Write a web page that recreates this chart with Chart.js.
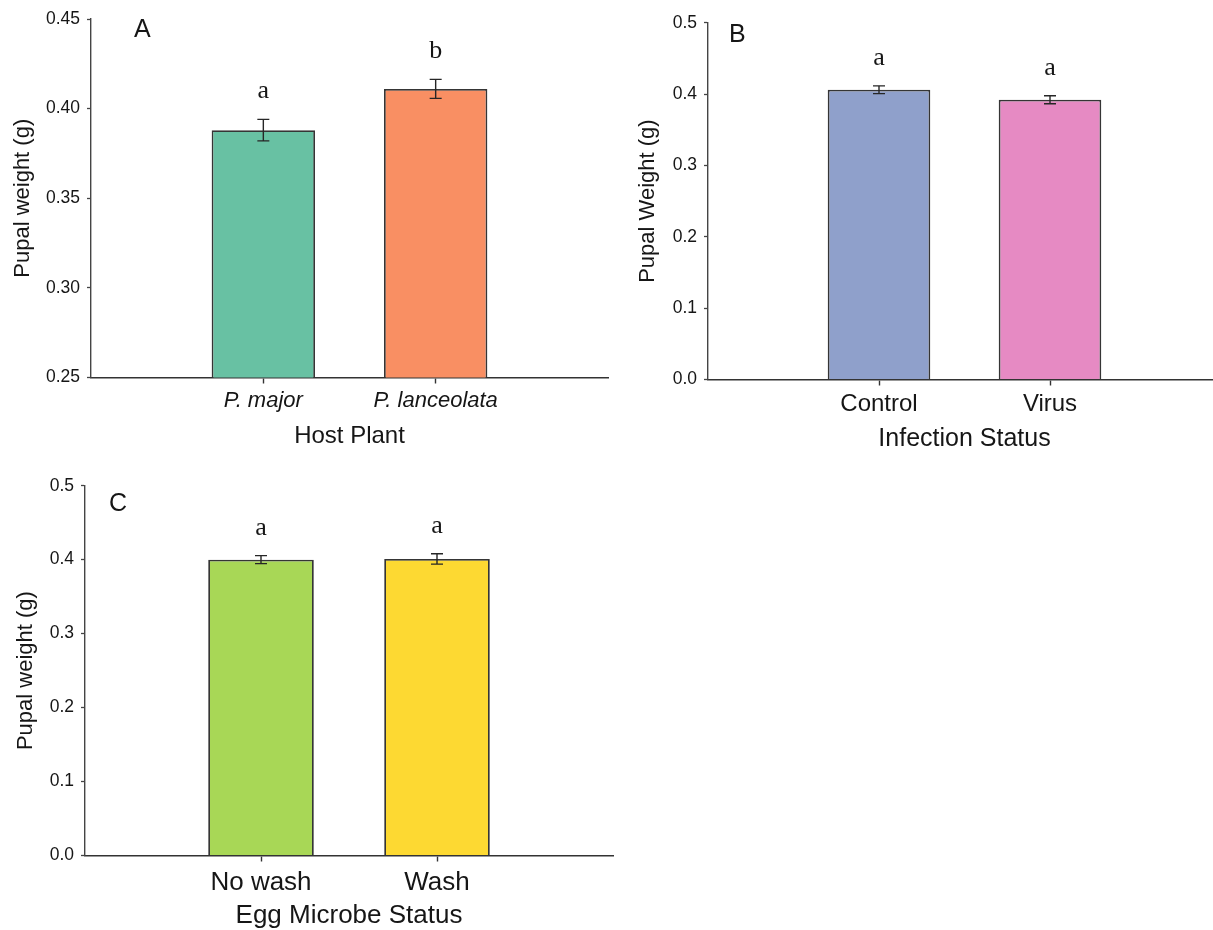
<!DOCTYPE html>
<html>
<head>
<meta charset="utf-8">
<title>Pupal weight</title>
<script src="https://cdn.jsdelivr.net/npm/chart.js@4.4.1/dist/chart.umd.min.js"></script>
<style>
  html, body { margin: 0; padding: 0; background: #fff; }
  body { width: 1213px; height: 930px; position: relative; overflow: hidden; }
  canvas { position: absolute; }
</style>
</head>
<body>
<canvas id="panelA" width="625" height="460" style="left:0;top:0"></canvas>
<canvas id="panelB" width="620" height="460" style="left:620px;top:0"></canvas>
<canvas id="panelC" width="630" height="472" style="left:0;top:460px"></canvas>
<script>
// A: host plant
const hostPlants = ['P. major', 'P. lanceolata'];
const hostMeans = [0.388, 0.411];
const hostErrors = [0.006, 0.0053];
const hostLetters = ['a', 'b'];
const hostTicks = [0.25, 0.30, 0.35, 0.40, 0.45];

// B: infection status
const infection = ['Control', 'Virus'];
const infectionMeans = [0.406, 0.392];
const infectionErrors = [0.0054, 0.0056];
const infectionLetters = ['a', 'a'];
const infectionTicks = [0.0, 0.1, 0.2, 0.3, 0.4, 0.5];

// C: egg microbe status
const eggStatus = ['No wash', 'Wash'];
const eggMeans = [0.400, 0.401];
const eggErrors = [0.0054, 0.007];
const eggLetters = ['a', 'a'];
const eggTicks = [0.0, 0.1, 0.2, 0.3, 0.4, 0.5];

const SANS = "'Liberation Sans', Arial, sans-serif";
const SERIF = "'Liberation Serif', 'Times New Roman', serif";
const INK = '#161616';
const AXIS = '#444';

// error bars, significance letters and the panel tag
const annotate = {
  id: 'annotate',
  afterDatasetsDraw(chart, args, opts) {
    const { ctx, chartArea, scales: { y } } = chart;
    const bars = chart.getDatasetMeta(0).data;
    ctx.save();
    bars.forEach((bar, i) => {
      const hi = y.getPixelForValue(opts.means[i] + opts.errors[i]);
      const lo = y.getPixelForValue(opts.means[i] - opts.errors[i]);
      ctx.strokeStyle = '#262626';
      ctx.lineWidth = 1.4;
      ctx.beginPath();
      ctx.moveTo(bar.x, hi); ctx.lineTo(bar.x, lo);
      ctx.moveTo(bar.x - 6, hi); ctx.lineTo(bar.x + 6, hi);
      ctx.moveTo(bar.x - 6, lo); ctx.lineTo(bar.x + 6, lo);
      ctx.stroke();

      ctx.fillStyle = INK;
      ctx.font = '26px ' + SERIF;
      ctx.textAlign = 'center';
      ctx.textBaseline = 'alphabetic';
      ctx.fillText(opts.letters[i], bar.x, hi - 21);
    });
    ctx.font = '25px ' + SANS;
    ctx.textAlign = 'left';
    ctx.fillText(opts.tag, chartArea.left + opts.tagX, chartArea.top + opts.tagY);
    ctx.restore();
  }
};

function makePanel(id, cfg) {
  const ctx = document.getElementById(id);
  return new Chart(ctx, {
    type: 'bar',
    data: {
      datasets: [{
        data: cfg.means.map((m, i) => ({ x: i + 1, y: m })),
        backgroundColor: cfg.colors,
        borderColor: '#353535',
        borderWidth: 1.8,
        barPercentage: 0.6,
        categoryPercentage: 1
      }]
    },
    options: {
      responsive: false,
      animation: false,
      devicePixelRatio: 1,
      layout: { padding: cfg.padding },
      plugins: {
        legend: { display: false },
        tooltip: { enabled: false },
        annotate: {
          means: cfg.means, errors: cfg.errors, letters: cfg.letters,
          tag: cfg.tag, tagX: cfg.tagX, tagY: cfg.tagY
        }
      },
      scales: {
        x: {
          type: 'linear',
          min: 0,
          max: 3,
          offset: false,
          bounds: 'data',
          afterBuildTicks: (scale) => { scale.ticks = cfg.labels.map((l, i) => ({ value: i + 1 })); },
          afterFit: (scale) => { scale.height = cfg.xHeight; },
          border: { color: '#333', width: 1.6 },
          grid: { offset: false, drawOnChartArea: false, tickLength: 6, tickColor: '#333', tickWidth: 1.4 },
          ticks: {
            color: INK,
            padding: cfg.xPad,
            maxRotation: 0,
            font: { family: SANS, size: cfg.catSize, style: cfg.catStyle || 'normal' },
            callback: (v, i) => cfg.labels[i]
          },
          title: {
            display: true,
            text: cfg.xTitle,
            color: INK,
            padding: { top: 0, bottom: 0 },
            font: { family: SANS, size: cfg.xTitleSize }
          }
        },
        y: {
          min: cfg.ticks[0],
          max: cfg.ticks[cfg.ticks.length - 1],
          afterBuildTicks: (scale) => { scale.ticks = cfg.ticks.map(v => ({ value: v })); },
          afterFit: (scale) => { scale.width = cfg.yWidth; },
          border: { color: AXIS, width: 1.4 },
          grid: { drawOnChartArea: false, tickLength: 4, tickColor: AXIS, tickWidth: 1.3 },
          ticks: {
            color: INK,
            padding: 7,
            font: { family: SANS, size: 17.5 },
            callback: (v) => v.toFixed(cfg.decimals)
          },
          title: {
            display: true,
            text: cfg.yTitle,
            color: INK,
            padding: { top: cfg.yTitlePad, bottom: 0 },
            font: { family: SANS, size: 22 }
          }
        }
      }
    },
    plugins: [annotate]
  });
}

makePanel('panelA', {
  labels: hostPlants, means: hostMeans, errors: hostErrors, letters: hostLetters,
  ticks: hostTicks, decimals: 2,
  colors: ['#68c1a3', '#f98f63'],
  tag: 'A', tagX: 43, tagY: 18,
  padding: { top: 19, right: 17, bottom: 9, left: 0 },
  yWidth: 91, yTitle: 'Pupal weight (g)', yTitlePad: 9.8,
  xHeight: 73.5, xPad: 4, catSize: 22, catStyle: 'italic',
  xTitle: 'Host Plant', xTitleSize: 24
});

makePanel('panelB', {
  labels: infection, means: infectionMeans, errors: infectionErrors, letters: infectionLetters,
  ticks: infectionTicks, decimals: 1,
  colors: ['#8fa0cb', '#e68ac3'],
  tag: 'B', tagX: 21, tagY: 19,
  padding: { top: 22.7, right: 19, bottom: 5.7, left: 0 },
  yWidth: 88, yTitle: 'Pupal Weight (g)', yTitlePad: 14.8,
  xHeight: 74.8, xPad: 4.8, catSize: 24,
  xTitle: 'Infection Status', xTitleSize: 25
});

makePanel('panelC', {
  labels: eggStatus, means: eggMeans, errors: eggErrors, letters: eggLetters,
  ticks: eggTicks, decimals: 1,
  colors: ['#a8d756', '#fdd932'],
  tag: 'C', tagX: 24, tagY: 25,
  padding: { top: 25.7, right: 17, bottom: 0.4, left: 0 },
  yWidth: 85, yTitle: 'Pupal weight (g)', yTitlePad: 12.8,
  xHeight: 76.1, xPad: 5.9, catSize: 26,
  xTitle: 'Egg Microbe Status', xTitleSize: 26
});
</script>
</body>
</html>
